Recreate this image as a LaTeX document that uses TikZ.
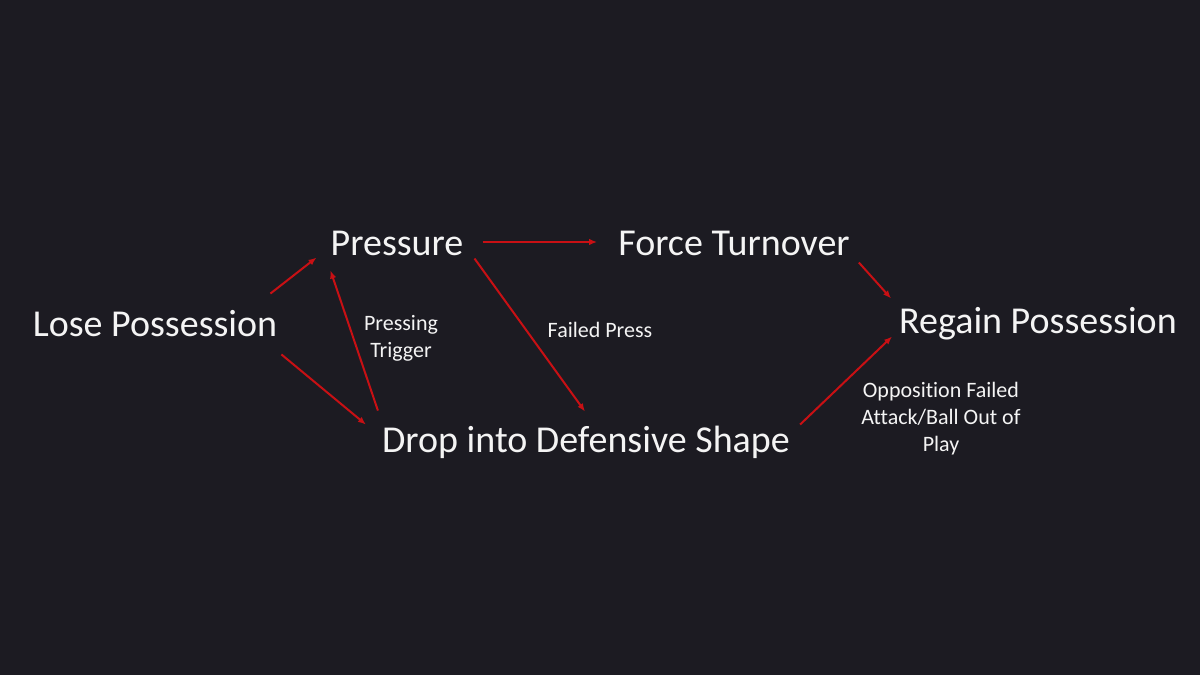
\documentclass[tikz,border=0pt]{standalone}
\usepackage{fontspec}
\setmainfont{Carlito}[Ligatures=NoCommon]
\usetikzlibrary{arrows.meta}

\definecolor{bgdark}{RGB}{28,27,34}
\definecolor{arrowred}{RGB}{200,16,20}
\definecolor{textwhite}{RGB}{244,244,244}

\begin{document}
\begin{tikzpicture}[x=1pt,y=-1pt,
	step label/.style={text=textwhite, inner sep=0pt, font=\fontsize{38}{45}\selectfont},
	edge label/.style={text=textwhite, inner sep=0pt, align=center, font=\fontsize{22}{27}\selectfont},
	flow/.style={draw=arrowred, line width=2pt, -{Latex[length=8pt,width=6.5pt]}}]

%% Background, one unit is one pixel of the 1200x675 slide
\fill[bgdark] (0,0) rectangle (1200,675);
\useasboundingbox (0,0) rectangle (1200,675);

%% Steps of the cycle
\node[step label] (lose)   at (155,324)  {Lose Possession};
\node[step label] (press)  at (397,243)  {Pressure};
\node[step label] (force)  at (734,243)  {Force Turnover};
\node[step label] (regain) at (1038,324) {Regain Possession};
\node[step label] (drop)   at (586,442)  {Drop into Defensive Shape};

%% Labels on the connectors
\node[edge label] (trigger) at (401,338) {Pressing\\Trigger};
\node[edge label] (failed)  at (600,330) {Failed Press};
\node[edge label] (opp)     at (941,419) {Opposition Failed\\Attack/Ball Out of\\Play};

%% Connectors
\draw[flow] ([shift={(-7,-17)}]lose.north east) -- ([shift={(-14,2)}]press.south west);
\draw[flow] ([shift={(4,17)}]lose.south east) -- ([shift={(-16,-1)}]drop.north west);
\draw[flow] ([shift={(-4,-15)}]drop.north west) -- ([shift={(0,15)}]press.south west);
\draw[flow] ([shift={(19,-1)}]press.east) -- ([shift={(-21,-1)}]force.west);
\draw[flow] ([shift={(11,3)}]press.south east) -- ([shift={(-1,-14)}]drop.north);
\draw[flow] ([shift={(9,7)}]force.south east) -- ([shift={(-8,-9)}]regain.north west);
\draw[flow] ([shift={(10,-1)}]drop.north east) -- ([shift={(-7,-4)}]regain.south west);

\end{tikzpicture}
\end{document}
